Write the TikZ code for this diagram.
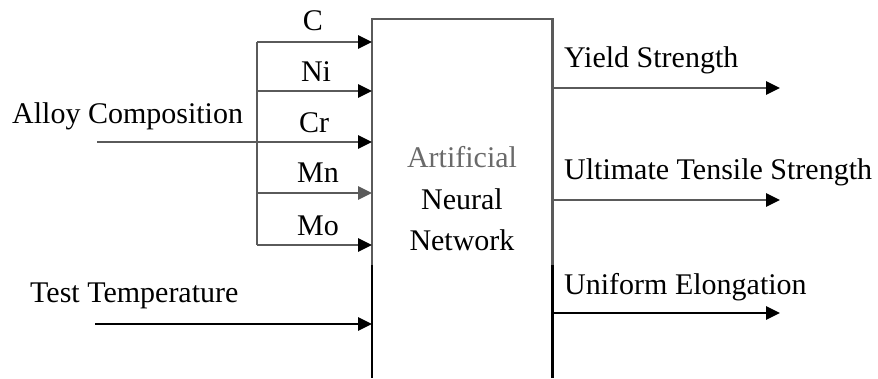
\documentclass[tikz,border=0pt]{standalone}
\usepackage{fontspec}
\setmainfont{Liberation Serif}
\usetikzlibrary{arrows.meta}
\definecolor{lineg}{HTML}{5A5A5A}
\definecolor{textg}{HTML}{6A6A6A}
\tikzset{
  lbl/.style={font=\fontsize{30}{34}\selectfont, inner sep=0pt},
  feed/.style={line width=2.8pt, draw=lineg},
  tip/.style={-{Triangle[length=14pt,width=13pt]}},
  btip/.style={-{Triangle[length=14pt,width=13pt,color=black]}},
  wire/.style={line width=2.8pt}
}
\begin{document}
\begin{tikzpicture}[x=1pt,y=-1pt]
\useasboundingbox (0,0) rectangle (878,378);
% network block (open at the bottom)
\node[minimum width=180pt, minimum height=359pt, inner sep=0pt, anchor=north west] (ann) at (372,19) {};
\draw[feed, line cap=rect] (ann.west |- 0,265) -- (ann.north west) -- (ann.north east) -- (ann.east |- 0,265);
\draw[wire] (ann.west |- 0,265) -- (ann.south west);
\draw[wire] (ann.east |- 0,265) -- (ann.south east);
\node[lbl, text=textg] (t1) at (462,157) {Artificial};
\node[lbl] (t2) at (462,199) {Neural};
\node[lbl] (t3) at (462,240) {Network};
% composition bus
\coordinate (busC) at (257,42);
\coordinate (busNi) at (257,91);
\coordinate (busCr) at (257,142);
\coordinate (busMn) at (257,193);
\coordinate (busMo) at (257,245);
\coordinate (alloyIn) at (97,142);
\draw[feed] (busC) -- (busMo);
\draw[feed] (alloyIn) -- (busCr);
\foreach \p in {C,Ni,Cr,Mo}{
  \draw[feed, btip] (bus\p) -- (ann.west |- bus\p);
}
\draw[feed, tip] (busMn) -- (ann.west |- busMn);
\node[lbl] (lC) at (313,21) {C};
\node[lbl] (lNi) at (316,72) {Ni};
\node[lbl] (lCr) at (314,123) {Cr};
\node[lbl] (lMn) at (318,173) {Mn};
\node[lbl] (lMo) at (318,226) {Mo};
\node[lbl, anchor=west] (alloy) at (12,116) {Alloy Composition};
% temperature input
\coordinate (tempIn) at (95,324);
\draw[wire, tip] (tempIn) -- (ann.west |- tempIn);
\node[lbl, anchor=west] (temp) at (30,296) {Test Temperature};
% outputs
\coordinate (ysOut) at (780,88);
\coordinate (utsOut) at (780,200);
\coordinate (ueOut) at (780,313);
\draw[feed, btip] (ann.east |- ysOut) -- (ysOut);
\draw[feed, btip] (ann.east |- utsOut) -- (utsOut);
\draw[wire, tip] (ann.east |- ueOut) -- (ueOut);
\node[lbl, anchor=west] (ys) at (564,60) {Yield Strength};
\node[lbl, anchor=west] (uts) at (564,172) {Ultimate Tensile Strength};
\node[lbl, anchor=west] (ue) at (564,287) {Uniform Elongation};
\end{tikzpicture}
\end{document}
